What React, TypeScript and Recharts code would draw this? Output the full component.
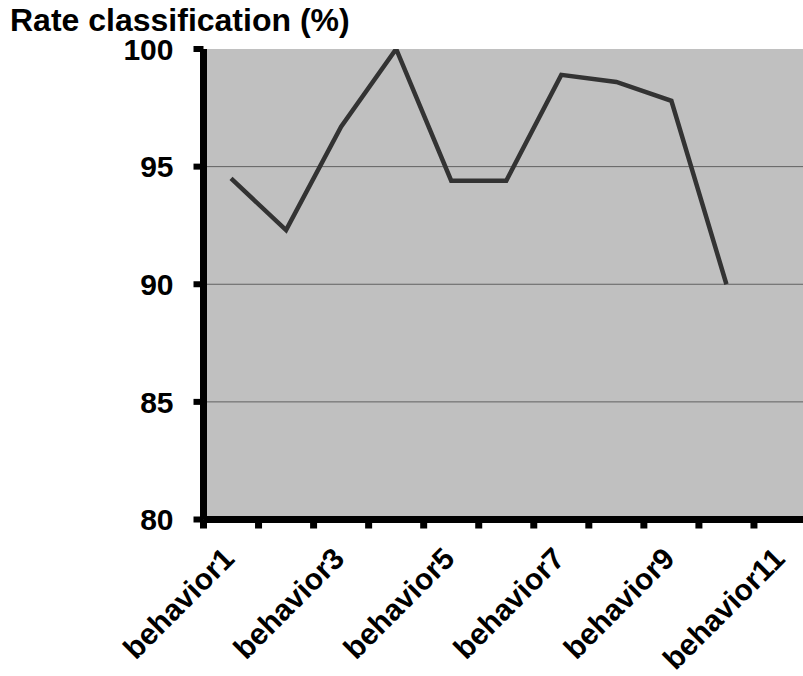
import { CartesianGrid, Line, LineChart, XAxis, YAxis } from "recharts";

const behaviors = [
  "behavior1", "behavior2", "behavior3", "behavior4", "behavior5", "behavior6",
  "behavior7", "behavior8", "behavior9", "behavior10", "behavior11",
];
const rates: (number | null)[] = [94.5, 92.3, 96.7, 100, 94.4, 94.4, 98.9, 98.6, 97.8, 90, null];
const rateTicks = [80, 85, 90, 95, 100];
const gridLines = [85, 90, 95];

const data = behaviors.map((name, i) => ({ name, rate: rates[i] }));

const FONT = "'Liberation Sans', Arial, sans-serif";
const CHART_W = 812;
const CHART_H = 676;
const MARGIN = { top: 49, right: 3, left: 0, bottom: 0 };
const Y_W = 203.5;
const BAND = (CHART_W - MARGIN.right - Y_W) / behaviors.length;

// tick mark on each band's left edge, label only on every other category
const BehaviorTick = (props: any) => {
  const { x, y, payload, index } = props;
  const edge = x - BAND / 2;
  const lx = x + 5;
  const ly = y + 41;
  return (
    <g>
      <rect x={edge - 3.5} y={y} width={7} height={9} fill="#000" />
      {index % 2 === 0 && (
        <text
          x={lx}
          y={ly}
          textAnchor="end"
          transform={`rotate(-45, ${lx}, ${ly})`}
          fontFamily={FONT}
          fontWeight="bold"
          fontSize={30}
          fill="#000"
        >
          {payload.value}
        </text>
      )}
    </g>
  );
};

export default function App() {
  return (
    <div
      style={{
        position: "absolute",
        left: 0,
        top: 0,
        width: 803,
        height: 676,
        overflow: "hidden",
        background: "#fff",
      }}
    >
      <LineChart width={CHART_W} height={CHART_H} data={data} margin={MARGIN}>
        <CartesianGrid
          fill="#c0c0c0"
          fillOpacity={1}
          vertical={false}
          horizontalValues={gridLines}
          stroke="#000"
          strokeDasharray="1 1"
          strokeWidth={1}
        />
        <XAxis
          dataKey="name"
          scale="band"
          interval={0}
          height={CHART_H - MARGIN.top - 470.5}
          axisLine={{ stroke: "#000", strokeWidth: 7 }}
          tickLine={false}
          tickSize={0}
          tickMargin={0}
          tick={<BehaviorTick />}
        />
        <YAxis
          width={Y_W}
          domain={[80, 100]}
          ticks={rateTicks}
          allowDataOverflow
          axisLine={{ stroke: "#000", strokeWidth: 7 }}
          tickLine={{ stroke: "#000", strokeWidth: 6 }}
          tickSize={10}
          tickMargin={20}
          tick={{ fill: "#000", fontFamily: FONT, fontWeight: "bold", fontSize: 30 }}
        />
        <Line
          type="linear"
          dataKey="rate"
          stroke="#333333"
          strokeWidth={4.5}
          dot={false}
          activeDot={false}
          isAnimationActive={false}
        />
      </LineChart>
      <div
        style={{
          position: "absolute",
          left: 10,
          top: 6,
          fontFamily: FONT,
          fontWeight: "bold",
          fontSize: 32,
          lineHeight: "28px",
          color: "#000",
          whiteSpace: "nowrap",
        }}
      >
        Rate classification (%)
      </div>
    </div>
  );
}
